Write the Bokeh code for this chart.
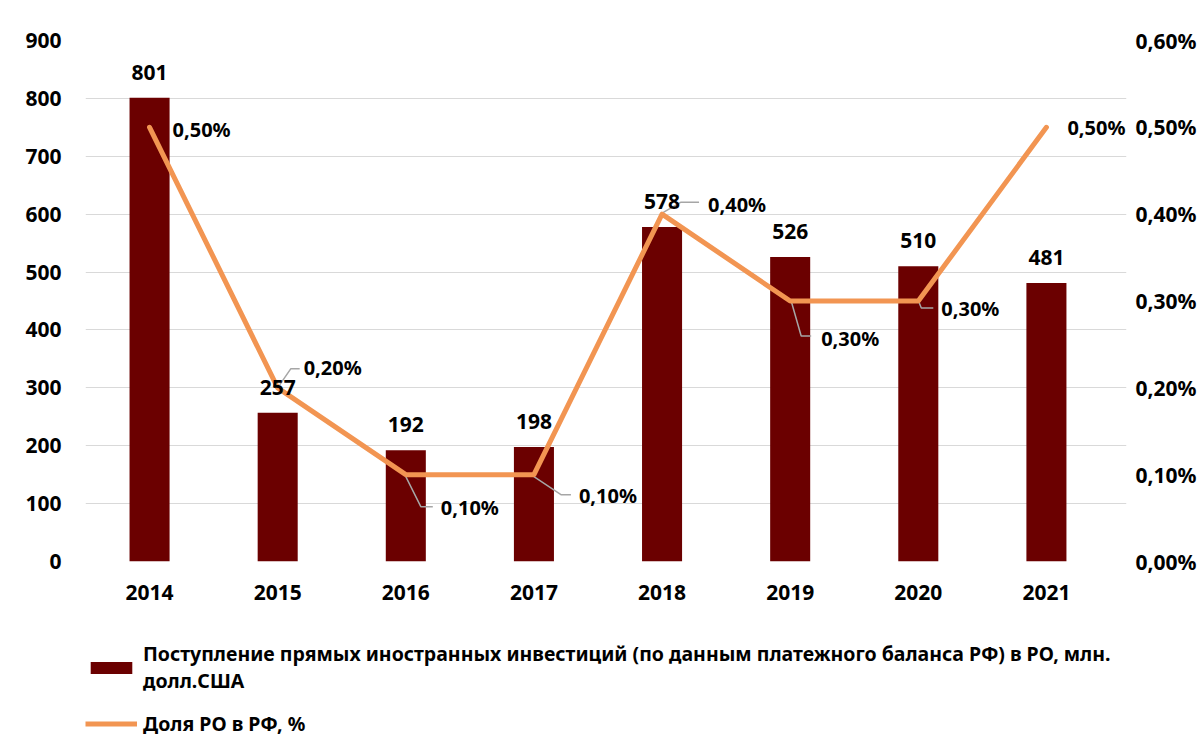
from bokeh.plotting import figure
from bokeh.layouts import column
from bokeh.models import (ColumnDataSource, Range1d, LinearAxis, FixedTicker,
                          CustomJSTickFormatter, Legend, LegendItem, LabelSet)
from bokeh.core.properties import value
from bokeh.embed import file_html
from bokeh.resources import INLINE

# ---- data ----
years = [2014, 2015, 2016, 2017, 2018, 2019, 2020, 2021]
fdi = [801, 257, 192, 198, 578, 526, 510, 481]
share = [0.5, 0.2, 0.1, 0.1, 0.4, 0.3, 0.3, 0.5]
left_ticks = [0, 100, 200, 300, 400, 500, 600, 700, 800, 900]
right_ticks = [0.0, 0.1, 0.2, 0.3, 0.4, 0.5, 0.6]
bar_name = "Поступление прямых иностранных инвестиций (по данным платежного баланса РФ) в РО, млн.\nдолл.США"
line_name = "Доля РО в РФ, %"

# ---- styles / label placement (pixels, +y = down) ----
FONT = "Noto Sans"
FS = "21px"
BAR_COLOR = "#6B0000"
LINE_COLOR = "#F29552"
PAD = 0.125         # extra room on the right of the last category (in categories)
FW, FH = 1041, 521
BL, BR = 85, 72
lab_dx = [23, 26, 35, 45, 46, 31, 23, 21]
lab_dy = [2, -20, 33, 21, -10, 37, 7, 0]
leaders = [None,
           [(2, -3), (13, -19), (22, -19)],
           [(0, 2), (15, 32), (27, 32)],
           [(0, 2), (27, 20), (37, 20)],
           [(0, -1), (19, -12), (37, -12)],
           [(1, 0), (11, 35), (21, 35)],
           [(1, 2), (3, 7), (15, 7)],
           None]

x0, x1 = years[0] - 0.5, years[-1] + 0.5 + PAD
p = figure(frame_width=FW, frame_height=FH, x_range=Range1d(x0, x1),
           y_range=Range1d(0, 900), output_backend="svg", toolbar_location=None,
           min_border_left=BL, min_border_right=BR, min_border_top=40,
           min_border_bottom=54, outline_line_color=None)
p.extra_y_ranges = {"pct": Range1d(0, 0.6)}

src = ColumnDataSource(dict(
    year=years, fdi=fdi, share=share,
    fdi_lab=[str(v) for v in fdi],
    share_lab=[("%.2f" % v).replace(".", ",") + "%" for v in share],
    dx=lab_dx, dy=[-d for d in lab_dy]))

bars = p.vbar(x="year", top="fdi", width=0.3125, source=src,
              fill_color=BAR_COLOR, line_color=None)

# leader lines (positions derived from data + pixel offsets)
px_cat = FW / (x1 - x0)
px_pct = FH / 0.6
lx, ly = [], []
for i, seg in enumerate(leaders):
    if seg is None:
        continue
    lx.append([years[i] + dx / px_cat for dx, dy in seg])
    ly.append([share[i] - dy / px_pct for dx, dy in seg])
p.multi_line(xs=lx, ys=ly, y_range_name="pct", line_color="#A6A6A6", line_width=1.5)

line = p.line(x="year", y="share", source=src, y_range_name="pct",
              line_color=LINE_COLOR, line_width=5, line_cap="round", line_join="round")

p.text(x="year", y="fdi", text="fdi_lab", source=src, text_align="center",
       text_baseline="bottom", y_offset=-18, text_font=value(FONT),
       text_font_style="bold", text_font_size=FS, text_color="black")
p.add_layout(LabelSet(x="year", y="share", text="share_lab", source=src,
                      y_range_name="pct", x_offset="dx", y_offset="dy",
                      text_align="left", text_baseline="middle",
                      text_font=value(FONT), text_font_style="bold",
                      text_font_size="20px", text_color="black"))

# axes
p.xaxis.ticker = FixedTicker(ticks=years)
p.yaxis.ticker = FixedTicker(ticks=left_ticks)
for ax in [p.yaxis[0], p.xaxis[0]]:
    ax.axis_line_color = None
    ax.major_tick_line_color = None
    ax.minor_tick_line_color = None
    ax.major_label_text_font = FONT
    ax.major_label_text_font_style = "bold"
    ax.major_label_text_font_size = FS
    ax.major_label_text_color = "black"
p.yaxis.major_label_standoff = 18
p.xaxis.major_label_standoff = 17

ra = LinearAxis(y_range_name="pct", ticker=FixedTicker(ticks=right_ticks),
                formatter=CustomJSTickFormatter(code="return tick.toFixed(2).replace('.', ',') + '%';"))
ra.axis_line_color = None
ra.major_tick_line_color = None
ra.minor_tick_line_color = None
ra.major_label_text_font = FONT
ra.major_label_text_font_style = "bold"
ra.major_label_text_font_size = FS
ra.major_label_text_color = "black"
ra.major_label_standoff = 3
p.add_layout(ra, "right")

p.xgrid.grid_line_color = None
p.ygrid.grid_line_color = "#D9D9D9"
p.ygrid.grid_line_width = 1

# ---- legend panel (separate figure under the chart) ----
lg = figure(frame_width=FW, height=128, x_range=Range1d(0, 1), y_range=Range1d(0, 1),
            x_axis_type=None, y_axis_type=None, output_backend="svg",
            toolbar_location=None, min_border_left=BL, min_border_right=BR,
            min_border_top=0, min_border_bottom=0, outline_line_color=None)
lg.grid.grid_line_color = None
dummy = ColumnDataSource(dict(x=[5, 6], top=[0, 0], y=[0, 0]))
lbar = lg.vbar(x="x", top="top", width=0.1, source=dummy,
               fill_color=BAR_COLOR, line_color=None)
lline = lg.line(x="x", y="y", source=dummy, line_color=LINE_COLOR, line_width=5)
legend = Legend(items=[LegendItem(label=bar_name, renderers=[lbar]),
                       LegendItem(label=line_name, renderers=[lline])],
                location=(0, 6), orientation="vertical",
                glyph_width=52, glyph_height=15, label_standoff=6,
                spacing=16, padding=0, margin=0,
                label_text_font=FONT, label_text_font_style="bold",
                label_text_font_size="19.5px", label_text_line_height=1.55,
                label_text_color="black",
                border_line_color=None, background_fill_alpha=0)
lg.add_layout(legend, "center")

layout = column(p, lg, spacing=0)
open("out.html", "w").write(file_html(layout, INLINE))
